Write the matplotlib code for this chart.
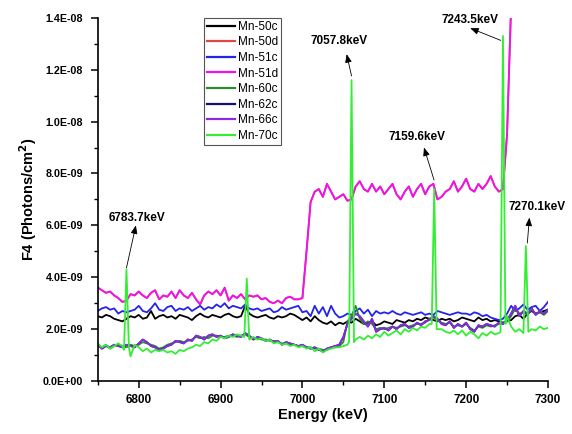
import numpy as np
import matplotlib
matplotlib.use("Agg")
import matplotlib.pyplot as plt
from matplotlib.ticker import MultipleLocator, FuncFormatter

plt.rcParams["font.family"] = ["Liberation Sans", "DejaVu Sans"]

# energy grid (keV), 5 keV steps
energy = np.arange(6750, 7301, 5)

# values in units of 1e-9 photons/cm^2
mn50c = [2.5, 2.45, 2.55, 2.5, 2.4, 2.35, 2.3, 2.4, 2.5, 2.45,
         2.55, 2.4, 2.45, 2.7, 2.4, 2.5, 2.55, 2.45, 2.5, 2.4,
         2.55, 2.5, 2.45, 2.35, 2.5, 2.6, 2.5, 2.45, 2.55, 2.5,
         2.45, 2.55, 2.6, 2.5, 2.45, 2.5, 2.9, 2.6, 2.5, 2.45,
         2.5, 2.55, 2.45, 2.4, 2.5, 2.45, 2.5, 2.6, 2.55, 2.45,
         2.35, 2.45, 2.3, 2.5, 2.35, 2.25, 2.2, 2.3, 2.15, 2.25,
         2.2, 2.3, 2.25, 2.4, 2.3, 2.2, 2.25, 2.3, 2.15, 2.2,
         2.3, 2.25, 2.2, 2.35, 2.3, 2.25, 2.35, 2.3, 2.4, 2.35,
         2.45, 2.4, 2.35, 2.3, 2.4, 2.35, 2.4, 2.3, 2.35, 2.45,
         2.4, 2.35, 2.3, 2.45, 2.35, 2.4, 2.3, 2.35, 2.3, 2.25,
         2.3, 2.35, 2.5, 2.55, 2.4, 2.6, 2.7, 2.6, 2.65, 2.7,
         2.75]

mn51c = [2.7, 2.8, 2.85, 2.75, 2.8, 2.6, 2.7, 2.65, 2.7, 2.75,
         2.9, 2.7, 2.65, 2.8, 3.0, 2.75, 2.7, 2.85, 2.9, 2.7,
         2.8, 2.75, 2.85, 2.7, 2.8, 2.9, 2.75, 2.85, 2.8, 2.95,
         2.85, 3.0, 2.8, 2.9, 2.85, 2.8, 2.95, 2.8, 2.75, 2.8,
         2.7, 2.75, 2.8, 2.65, 2.7, 2.85, 2.75, 2.8, 2.85, 2.9,
         2.65, 2.7, 2.5, 2.9, 2.6, 2.85, 2.5, 2.9, 2.6, 2.45,
         2.5, 2.6, 2.55, 2.7, 2.8, 2.6, 2.75, 2.5, 2.7, 2.6,
         2.65, 2.6, 2.7, 2.6, 2.55, 2.65, 2.6, 2.55, 2.6, 2.65,
         2.55, 2.6, 2.55, 2.7, 2.65, 2.6, 2.55, 2.6, 2.65, 2.6,
         2.6, 2.55, 2.65, 2.6, 2.5, 2.55, 2.45, 2.4, 2.35, 2.4,
         2.6, 2.9, 2.7, 2.8, 2.95, 2.75, 2.85, 2.9, 2.7, 2.85,
         3.05]

# Mn-51d runs off the top of the scale after 7255 keV
energy51d = np.arange(6750, 7256, 5)
mn51d = [3.6, 3.5, 3.4, 3.45, 3.3, 3.2, 3.05, 3.1, 3.35, 3.3,
         3.45, 3.3, 3.2, 3.4, 3.5, 3.15, 3.3, 3.25, 3.45, 3.2,
         3.5, 3.3, 3.2, 3.4, 3.15, 2.95, 3.3, 3.45, 3.35, 3.5,
         3.3, 3.6, 3.1, 3.3, 3.2, 3.35, 3.15, 3.3, 3.25, 3.3,
         3.15, 3.2, 3.05, 3.0, 3.1, 3.0, 3.2, 3.25, 3.15, 3.15,
         3.2, 5.0, 6.9, 7.3, 7.4, 7.1, 7.6, 7.3, 7.0, 7.1,
         7.2, 6.95, 7.0, 7.5, 7.7, 7.4, 7.3, 7.6, 7.3, 7.5,
         7.2, 7.4, 7.6, 7.2, 7.0, 7.3, 7.5, 7.1, 7.4, 7.6,
         7.2, 7.5, 7.6, 7.0, 7.1, 7.3, 7.4, 7.7, 7.3, 7.5,
         7.8, 7.4, 7.3, 7.6, 7.4, 7.6, 7.9, 7.5, 7.3, 7.4,
         9.5, 14.5]
mn50d = mn51d  # hidden under Mn-51d

mn60c = [1.35, 1.3, 1.4, 1.25, 1.35, 1.4, 1.35, 1.3, 1.4, 1.35,
         1.4, 1.5, 1.45, 1.4, 1.35, 1.25, 1.3, 1.4, 1.45, 1.5,
         1.55, 1.5, 1.55, 1.6, 1.7, 1.65, 1.7, 1.65, 1.75, 1.75,
         1.7, 1.7, 1.75, 1.75, 1.7, 1.75, 1.8, 1.7, 1.65, 1.65,
         1.6, 1.6, 1.55, 1.55, 1.5, 1.45, 1.45, 1.4, 1.4, 1.35,
         1.35, 1.3, 1.3, 1.25, 1.25, 1.2, 1.2, 1.3, 1.3, 1.35,
         1.5, 2.3, 2.5, 2.9, 2.4, 2.2, 2.3, 2.2, 2.0, 2.05,
         2.0, 2.05, 2.1, 2.05, 2.1, 2.15, 2.1, 2.15, 2.2, 2.2,
         2.25, 2.4, 2.45, 2.35, 2.25, 2.2, 2.25, 2.1, 2.15, 2.1,
         2.2, 2.05, 1.95, 2.1, 2.05, 2.15, 2.1, 2.15, 2.2, 2.25,
         2.3, 2.5, 2.8, 2.6, 2.65, 2.55, 2.75, 2.6, 2.65, 2.55,
         2.7]

mn66c = [1.4, 1.25, 1.35, 1.3, 1.4, 1.35, 1.3, 1.4, 1.35, 1.3,
         1.45, 1.6, 1.5, 1.35, 1.3, 1.2, 1.25, 1.35, 1.4, 1.55,
         1.5, 1.45, 1.6, 1.55, 1.75, 1.7, 1.6, 1.75, 1.8, 1.7,
         1.75, 1.65, 1.7, 1.8, 1.75, 1.7, 1.85, 1.75, 1.6, 1.7,
         1.65, 1.55, 1.6, 1.5, 1.55, 1.4, 1.5, 1.45, 1.4, 1.35,
         1.4, 1.3, 1.25, 1.3, 1.2, 1.15, 1.25, 1.3, 1.35, 1.4,
         1.7, 2.2, 2.4, 2.6, 2.5, 2.3, 2.1, 2.4, 1.9, 2.0,
         2.05, 1.95, 2.1, 2.0, 2.15, 2.2, 2.05, 2.1, 2.25, 2.15,
         2.3, 2.35, 2.5, 2.4, 2.2, 2.15, 2.3, 2.05, 2.2, 2.1,
         2.25, 2.0, 1.9, 2.15, 2.1, 2.2, 2.15, 2.1, 2.25, 2.2,
         2.35, 2.6, 2.9, 2.5, 2.7, 2.6, 2.8, 2.55, 2.7, 2.6,
         2.75]
mn62c = mn66c  # hidden under Mn-66c

# Mn-70c carries the narrow emission lines
energy70 = [6750, 6755, 6760, 6765, 6770, 6775, 6780, 6782, 6785, 6788, 6790, 6795,
            6800, 6805, 6810, 6815, 6820, 6825, 6830, 6835, 6840, 6845,
            6850, 6855, 6860, 6865, 6870, 6875, 6880, 6885, 6890, 6895,
            6900, 6905, 6910, 6915, 6920, 6925, 6929, 6932, 6935, 6940, 6945,
            6950, 6955, 6960, 6965, 6970, 6975, 6980, 6985, 6990, 6995,
            7000, 7005, 7010, 7015, 7020, 7025, 7030, 7035, 7040, 7045,
            7050, 7055, 7057, 7060, 7063, 7065, 7070, 7075, 7080, 7085, 7090, 7095,
            7100, 7105, 7110, 7115, 7120, 7125, 7130, 7135, 7140, 7145,
            7150, 7155, 7158, 7161, 7164, 7170, 7175, 7180, 7185, 7190, 7195,
            7200, 7205, 7210, 7215, 7220, 7225, 7230, 7235, 7240,
            7242, 7245, 7248, 7250, 7255, 7260, 7265, 7270, 7273, 7276,
            7280, 7285, 7290, 7295, 7300]
mn70c = [1.45, 1.3, 1.4, 1.25, 1.35, 1.45, 1.35, 1.2, 4.3, 1.3, 0.95, 1.4,
         1.3, 1.15, 1.25, 1.1, 1.2, 1.15, 1.2, 1.1, 1.15, 1.05,
         1.2, 1.15, 1.25, 1.3, 1.4, 1.35, 1.5, 1.45, 1.6, 1.55,
         1.7, 1.65, 1.75, 1.7, 1.8, 1.75, 1.7, 3.95, 1.6, 1.7, 1.6,
         1.65, 1.55, 1.6, 1.45, 1.5, 1.4, 1.45, 1.35, 1.4, 1.3,
         1.35, 1.25, 1.3, 1.15, 1.25, 1.1, 1.2, 1.25, 1.3, 1.3,
         1.35, 1.4, 1.5, 11.6, 1.5, 1.6, 1.7, 1.6, 1.75, 1.65, 1.8, 1.7,
         1.9, 1.75, 1.85, 1.95, 1.8, 2.0, 1.9, 2.05, 1.95, 2.1,
         2.05, 2.2, 2.2, 7.4, 2.0, 2.0, 1.9, 1.85, 1.95, 1.8, 1.95,
         1.75, 1.9, 1.8, 1.65, 1.85, 1.75, 1.9, 1.8, 1.85,
         1.9, 13.3, 2.2, 2.5, 2.1, 1.9, 2.0, 1.85, 5.2, 1.9,
         2.0, 1.95, 2.1, 2.0, 2.05]

peaks = ["6783.7keV", "7057.8keV", "7159.6keV", "7243.5keV", "7270.1keV"]
peak_xy = [(6785, 4.36), (7060, 11.76), (7160.8, 7.75), (7242.3, 13.13), (7274.8, 5.32)]
label_xy = [(6797.7, 6.3), (7044.6, 13.1), (7139.6, 9.4), (7204.8, 13.9), (7286.3, 6.7)]
head_xy = [(6796.5, 6.0), (7054, 12.6), (7148.5, 9.0), (7205, 13.6), (7277.3, 6.3)]

fig = plt.figure(figsize=(5.72, 4.34), dpi=100)
ax = fig.add_axes([0.171, 0.122, 0.787, 0.837])

series = [
    ("Mn-50c", energy, mn50c, "#000000"),
    ("Mn-50d", energy51d, mn50d, "#e04848"),
    ("Mn-51c", energy, mn51c, "#2424e8"),
    ("Mn-51d", energy51d, mn51d, "#f010f0"),
    ("Mn-60c", energy, mn60c, "#2e8a2e"),
    ("Mn-62c", energy, mn62c, "#12126e"),
    ("Mn-66c", energy, mn66c, "#8a2be2"),
    ("Mn-70c", energy70, mn70c, "#33ee33"),
]
for name, x, y, c in series:
    ax.plot(x, np.array(y) * 1e-9, color=c, lw=1.3, label=name)

for txt, p, t, h in zip(peaks, peak_xy, label_xy, head_xy):
    ax.annotate("", xy=(h[0], h[1] * 1e-9), xytext=(p[0], p[1] * 1e-9),
                arrowprops=dict(arrowstyle="-|>,head_length=0.5,head_width=0.2",
                                color="black", lw=0.6, shrinkA=0, shrinkB=0))
    ax.text(t[0], t[1] * 1e-9, txt, ha="center", va="center", fontsize=8.5,
            fontweight="bold", clip_on=False)

ax.set_xlim(6750, 7300)
ax.set_ylim(0, 1.4e-8)
ax.xaxis.set_major_locator(MultipleLocator(100))
ax.xaxis.set_minor_locator(MultipleLocator(50))
ax.yaxis.set_major_locator(MultipleLocator(2e-9))
ax.yaxis.set_minor_locator(MultipleLocator(1e-9))
ax.yaxis.set_major_formatter(FuncFormatter(lambda v, p: f"{v:.1E}"))
ax.spines["top"].set_visible(False)
ax.spines["right"].set_visible(False)
ax.spines["left"].set_linewidth(1.2)
ax.spines["bottom"].set_linewidth(1.2)
ax.tick_params(which="major", direction="out", length=5, width=1.1)
ax.tick_params(which="minor", direction="out", length=3, width=1.0)
ax.tick_params(axis="x", labelsize=8.5, pad=4)
ax.tick_params(axis="y", labelsize=7.7, pad=5.5)
for lab in ax.get_xticklabels() + ax.get_yticklabels():
    lab.set_fontweight("bold")

ax.set_xlabel("Energy (keV)", fontsize=10.5, fontweight="bold", labelpad=2)
ax.set_ylabel("F4 (Photons/cm$\\mathbf{^2}$)", fontsize=10.5, fontweight="bold", labelpad=3)

leg = ax.legend(loc="upper left", bbox_to_anchor=(204 / 572, 1 - 18 / 434),
                bbox_transform=fig.transFigure, borderaxespad=0, fontsize=8.5,
                fancybox=False, framealpha=1, edgecolor="#555555",
                labelspacing=0.3, handlelength=2.4, handletextpad=0.2,
                borderpad=0.25)
leg.get_frame().set_linewidth(0.8)
for line in leg.get_lines():
    line.set_linewidth(1.6)

fig.savefig("out.png", dpi=100)
